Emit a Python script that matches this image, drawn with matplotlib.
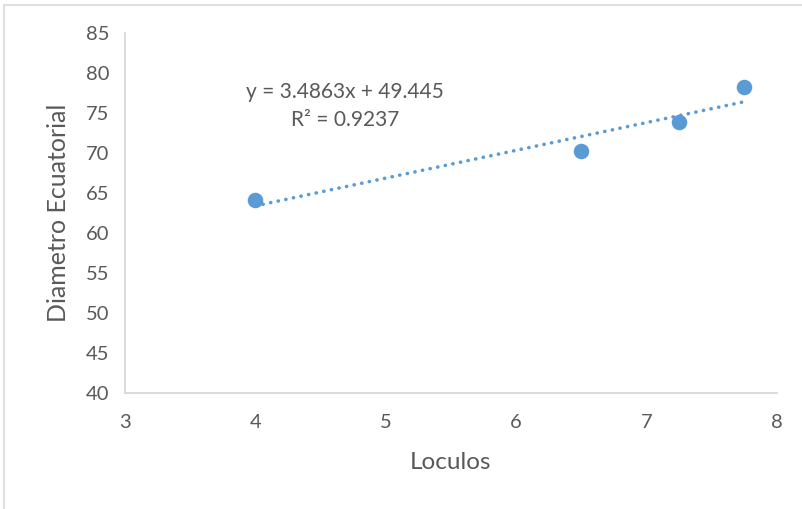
import numpy as np
import matplotlib.pyplot as plt
from matplotlib.lines import Line2D

# data
loculos = [4.0, 6.5, 7.25, 7.75]
diametro = [64.15, 70.25, 73.95, 78.35]
eq_text = "y = 3.4863x + 49.445"
r2_text = "R² = 0.9237"

plt.rcParams['font.family'] = ['Lato', 'DejaVu Sans']
gray = '#595959'
blue = '#5B9BD5'

W, H = 803, 509
fig = plt.figure(figsize=(W / 100, H / 100), dpi=100)
ax = fig.add_axes([125 / W, 1 - 393.3 / H, 652 / W, 360 / H])

# linear trendline (Excel style, dotted)
m, b = np.polyfit(loculos, diametro, 1)
xt = np.array([min(loculos), max(loculos)])
ax.plot(xt, m * xt + b, color=blue, lw=2.6, linestyle=(0, (0.05, 2.1)),
        dash_capstyle='round', zorder=2)
ax.scatter(loculos, diametro, s=125, color=blue, zorder=3, linewidths=0)

ax.set_xlim(3, 8)
ax.set_ylim(40, 85)
ax.set_xticks(range(3, 9))
ax.set_yticks(range(40, 90, 5))

for s in ['top', 'right']:
    ax.spines[s].set_visible(False)
for s in ['left', 'bottom']:
    ax.spines[s].set_color('#D9D9D9')
    ax.spines[s].set_linewidth(1.3)
ax.tick_params(length=0, labelsize=14.5, colors=gray)
ax.tick_params(axis='x', pad=15)
ax.tick_params(axis='y', pad=11)

ax.set_xlabel('Loculos', fontsize=17.5, color=gray, labelpad=15)
ax.set_ylabel('Diametro Ecuatorial', fontsize=18, color=gray, labelpad=12)

# equation label, placed in figure fractions
fig.text(345 / W, 1 - 91.5 / H, eq_text, fontsize=15, color=gray,
         ha='center', va='center')
fig.text(345 / W, 1 - 120 / H, r2_text, fontsize=15, color=gray,
         ha='center', va='center')

# faint chart-area border (left and top edges visible)
fig.add_artist(Line2D([4.5 / W, 4.5 / W], [0, 1 - 4.5 / H],
                      transform=fig.transFigure, color='#D9D9D9', lw=1.2))
fig.add_artist(Line2D([4.5 / W, 1], [1 - 4.5 / H, 1 - 4.5 / H],
                      transform=fig.transFigure, color='#D9D9D9', lw=1.2))

fig.savefig('out.png', dpi=100)
